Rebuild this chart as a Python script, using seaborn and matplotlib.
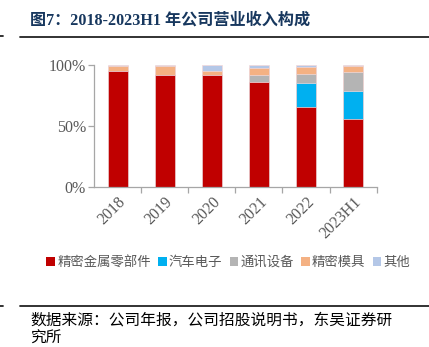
import numpy as np
import pandas as pd
import matplotlib
matplotlib.use("Agg")
import matplotlib.pyplot as plt
from matplotlib.patches import Patch
from matplotlib.lines import Line2D
from matplotlib.ticker import FixedLocator, FuncFormatter
import seaborn as sns

sns.set_theme(style="white")
plt.rcParams['font.family'] = ['Liberation Serif', 'Noto Sans CJK SC', 'DejaVu Sans']

# Revenue mix by segment (% of total revenue)
categories = ['2018', '2019', '2020', '2021', '2022', '2023H1']
segments = ['精密金属零部件', '汽车电子', '通讯设备', '精密模具', '其他']
metal_parts = [95.1, 91.3, 91.8, 86.1, 65.3, 55.7]
auto_electronics = [0.0, 0.0, 0.0, 0.0, 19.9, 22.7]
telecom_equipment = [0.0, 0.0, 0.0, 5.7, 7.2, 15.6]
precision_molds = [3.9, 7.9, 3.3, 5.7, 5.7, 5.2]
others = [1.0, 0.8, 4.9, 2.5, 1.9, 0.8]
colors = ['#C00000', '#00B0F0', '#B4B4B4', '#F4B183', '#B4C7E7']

series = [metal_parts, auto_electronics, telecom_equipment, precision_molds, others]
df = pd.DataFrame({name: vals for name, vals in zip(segments, series)}, index=categories)
cum = df.cumsum(axis=1) / 100.0

fig = plt.figure(figsize=(4.29, 3.47), dpi=100)
ax = fig.add_axes([0.2198, 0.462, 0.658, 0.3516])

# stacked bars: draw cumulative totals from the top segment down
for name, col in reversed(list(zip(segments, colors))):
    d = pd.DataFrame({'cat': categories, 'val': cum[name].values})
    sns.barplot(data=d, x='cat', y='val', color=col, width=0.425,
                edgecolor='#F3D9D9', linewidth=0.5, ax=ax, saturation=1)

gray = '#595959'
axis_gray = '#A6A6A6'
ax.set_xlim(-0.5, 5.5)
ax.set_ylim(0, 1.0)
ax.set_xlabel('')
ax.set_ylabel('')
for s in ['top', 'right']:
    ax.spines[s].set_visible(False)
for s in ['left', 'bottom']:
    ax.spines[s].set_color(axis_gray)
    ax.spines[s].set_linewidth(0.9)

ax.yaxis.set_major_locator(FixedLocator([0, 0.5, 1.0]))
ax.yaxis.set_major_formatter(FuncFormatter(lambda v, p: f'{int(round(v * 100))}%'))
ax.tick_params(axis='y', which='major', direction='out', length=4, width=0.9,
               color=axis_gray, labelcolor=gray, labelsize=11.5, pad=2, left=True)

ax.set_xticks(range(len(categories)))
ax.set_xticklabels(categories, rotation=45, ha='right', rotation_mode='anchor')
ax.tick_params(axis='x', which='major', length=0, labelcolor=gray, labelsize=11.5, pad=5)
ax.xaxis.set_minor_locator(FixedLocator(np.arange(0.5, 6.0, 1.0)))
ax.tick_params(axis='x', which='minor', direction='out', length=4, width=0.9,
               color=axis_gray, bottom=True)

# legend
handles = [Patch(facecolor=c, edgecolor='none') for c in colors]
fig.legend(handles, segments, loc='center', bbox_to_anchor=(0.532, 0.245), ncol=5,
           frameon=False, handlelength=0.65, handleheight=0.65, handletextpad=0.15,
           columnspacing=0.55, borderaxespad=0,
           prop={'family': ['Noto Sans CJK SC'], 'size': 9.6}, labelcolor=gray)

# header and footer
fig.text(0.07, 0.94, '图7：2018-2023H1 年公司营业收入构成', fontsize=11.6, fontweight='bold',
         color='#17375E', va='center', ha='left',
         family=['Liberation Serif', 'Noto Sans CJK SC'])
fig.add_artist(Line2D([0.047, 1.0], [1 - 37 / 347] * 2, color='#222222', lw=1.3,
                      transform=fig.transFigure))
fig.add_artist(Line2D([0.0, 0.008], [1 - 36 / 347] * 2, color='#222222', lw=1.3,
                      transform=fig.transFigure))
fig.add_artist(Line2D([0.047, 1.0], [1 - 306 / 347] * 2, color='#222222', lw=1.3,
                      transform=fig.transFigure))
fig.add_artist(Line2D([0.0, 0.008], [1 - 306 / 347] * 2, color='#222222', lw=1.3,
                      transform=fig.transFigure))
fig.text(0.07, 1 - 320 / 347, '数据来源：公司年报，公司招股说明书，东吴证券研',
         fontsize=11.3, color='black', va='center', ha='left',
         family=['Noto Sans CJK SC'])
fig.text(0.07, 1 - 338 / 347, '究所', fontsize=11.3, color='black', va='center',
         ha='left', family=['Noto Sans CJK SC'])

fig.savefig('out.png', dpi=100)
